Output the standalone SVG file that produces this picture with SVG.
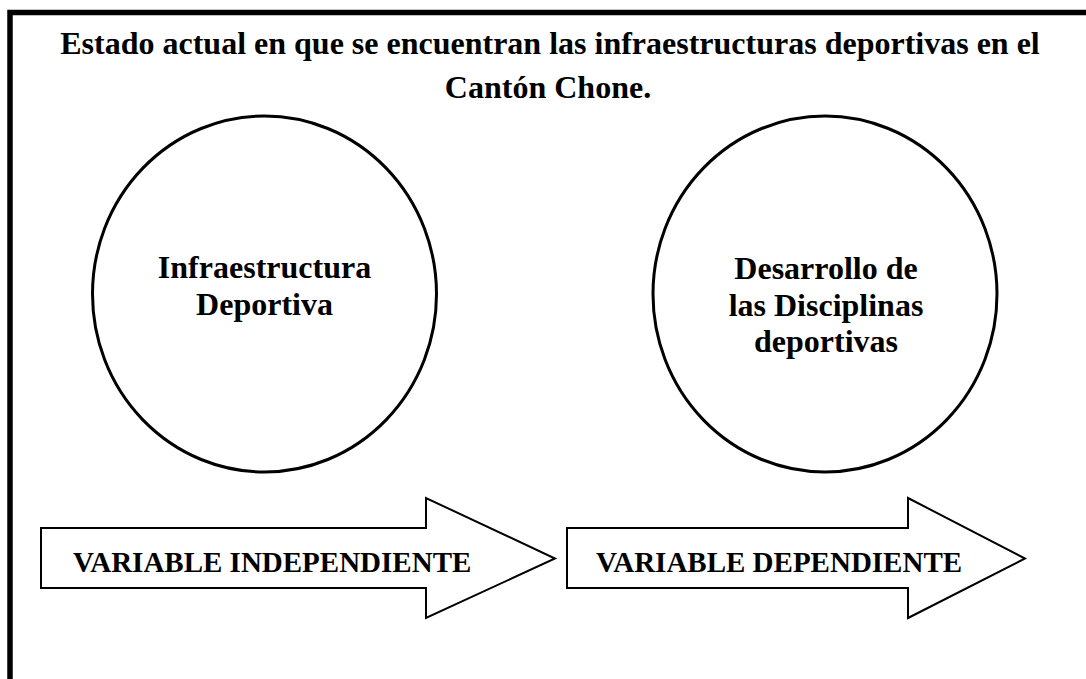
<svg xmlns="http://www.w3.org/2000/svg" width="1086" height="679" viewBox="0 0 1086 679">
<style>
.t{font-family:"Liberation Serif","Times New Roman",serif;font-weight:bold;fill:#000}
.c{fill:#fff;stroke:#000;stroke-width:3}
.a{fill:#fff;stroke:#000;stroke-width:2;stroke-linejoin:miter}
</style>
<rect x="0" y="0" width="1086" height="679" fill="#fff"/>
<rect id="frame" x="10" y="12.5" width="1100" height="720" fill="none" stroke="#000" stroke-width="5.5"/>
<g id="title">
<text class="t" font-size="32" text-anchor="middle" x="550" y="54">Estado actual en que se encuentran las infraestructuras deportivas en el</text>
<text class="t" font-size="32" text-anchor="middle" x="548" y="98">Cantón Chone.</text>
</g>
<g id="node-infra">
<ellipse class="c" cx="264.5" cy="294" rx="172" ry="178"/>
<text class="t" font-size="32" text-anchor="middle" x="264.5" y="278">Infraestructura</text>
<text class="t" font-size="32" text-anchor="middle" x="264.5" y="315">Deportiva</text>
</g>
<g id="node-desarrollo">
<ellipse class="c" cx="825" cy="294" rx="172" ry="178"/>
<text class="t" font-size="32" text-anchor="middle" x="826" y="279">Desarrollo de</text>
<text class="t" font-size="32" text-anchor="middle" x="826" y="315.5">las Disciplinas</text>
<text class="t" font-size="32" text-anchor="middle" x="826" y="352">deportivas</text>
</g>
<g id="connectors">
<g id="arrow-independiente">
<polygon class="a" points="41,528 426,528 426,498 555,558.5 426,618 426,588 41,588"/>
<text class="t" font-size="29" x="73" y="572">VARIABLE INDEPENDIENTE</text>
</g>
<g id="arrow-dependiente">
<polygon class="a" points="567,528 908,528 908,498 1025,558.5 908,618 908,588 567,588"/>
<text class="t" font-size="29" x="596" y="572">VARIABLE DEPENDIENTE</text>
</g>
</g>
</svg>
